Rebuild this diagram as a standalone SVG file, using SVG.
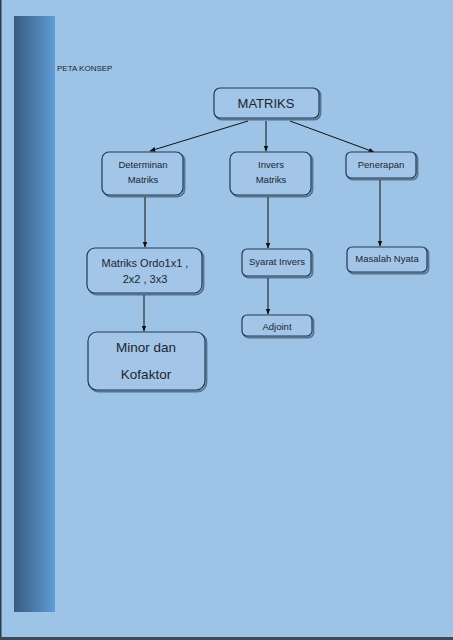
<svg xmlns="http://www.w3.org/2000/svg" width="453" height="640" viewBox="0 0 453 640">
<defs>
<linearGradient id="bar" x1="0" y1="0" x2="1" y2="0">
<stop offset="0" stop-color="#385d82"/>
<stop offset="0.5" stop-color="#4a7bab"/>
<stop offset="1" stop-color="#609cd6"/>
</linearGradient>
<marker id="arr" viewBox="0 0 10 10" refX="9" refY="5" markerWidth="6" markerHeight="6" orient="auto">
<path d="M0,1 L10,5 L0,9 z" fill="#111"/>
</marker>
</defs>
<style>
.box{fill:#a2c5e8;stroke:#1e3a55;stroke-width:1.2}
.sh{fill:none;stroke:#2a3f55;stroke-width:1.8;opacity:0.6}
.t{font-family:"Liberation Sans",Arial,sans-serif;fill:#1c2530;text-anchor:middle}
.c{stroke:#111;stroke-width:1;fill:none;marker-end:url(#arr)}
</style>
<rect x="0" y="0" width="453" height="640" fill="#9dc3e6"/>
<rect x="0" y="0" width="1.5" height="640" fill="#2a3a4a"/>
<rect x="0" y="637" width="453" height="3" fill="#3a4a5a"/>
<rect x="14" y="16" width="41" height="596" fill="url(#bar)"/>
<text x="57" y="71" class="t" style="text-anchor:start;font-size:8px">PETA KONSEP</text>
<g id="connectors">
<line class="c" x1="248" y1="121" x2="150" y2="151"/>
<line class="c" x1="266" y1="121" x2="266" y2="151"/>
<line class="c" x1="290" y1="121" x2="374" y2="152"/>
<line class="c" x1="145" y1="197" x2="145" y2="247"/>
<line class="c" x1="268" y1="197" x2="268" y2="248"/>
<line class="c" x1="380" y1="180" x2="380" y2="246"/>
<line class="c" x1="144" y1="295" x2="144" y2="331"/>
<line class="c" x1="268" y1="278" x2="268" y2="314"/>
</g>
<g id="matriks">
<rect class="sh" x="215.5" y="89.5" width="105" height="30" rx="6"/>
<rect class="box" x="214" y="88" width="105" height="30" rx="6"/>
<text class="t" x="266" y="108" style="font-size:13px">MATRIKS</text>
</g>
<g id="determinan">
<rect class="sh" x="103.5" y="153.5" width="81" height="43" rx="7"/>
<rect class="box" x="102" y="152" width="81" height="43" rx="7"/>
<text class="t" x="143" y="168" style="font-size:9.5px">Determinan</text>
<text class="t" x="143" y="183" style="font-size:9.5px">Matriks</text>
</g>
<g id="invers">
<rect class="sh" x="231.5" y="153.5" width="81" height="43" rx="7"/>
<rect class="box" x="230" y="152" width="81" height="43" rx="7"/>
<text class="t" x="271" y="168" style="font-size:9.5px">Invers</text>
<text class="t" x="271" y="183" style="font-size:9.5px">Matriks</text>
</g>
<g id="penerapan">
<rect class="sh" x="347.5" y="153.5" width="70" height="26" rx="5"/>
<rect class="box" x="346" y="152" width="70" height="26" rx="5"/>
<text class="t" x="381" y="168" style="font-size:9.5px">Penerapan</text>
</g>
<g id="ordo">
<rect class="sh" x="88.5" y="249.5" width="115" height="45" rx="8"/>
<rect class="box" x="87" y="248" width="115" height="45" rx="8"/>
<text class="t" x="145" y="267" style="font-size:11px">Matriks Ordo1x1 ,</text>
<text class="t" x="145" y="283" style="font-size:11px">2x2 , 3x3</text>
</g>
<g id="syarat">
<rect class="sh" x="243.5" y="250.5" width="69" height="27" rx="5"/>
<rect class="box" x="242" y="249" width="69" height="27" rx="5"/>
<text class="t" x="277" y="265" style="font-size:9.5px">Syarat Invers</text>
</g>
<g id="masalah">
<rect class="sh" x="348.5" y="248.5" width="80" height="25" rx="5"/>
<rect class="box" x="347" y="247" width="80" height="25" rx="5"/>
<text class="t" x="387" y="262" style="font-size:9.5px">Masalah Nyata</text>
</g>
<g id="minor">
<rect class="sh" x="89.5" y="333.5" width="117" height="58" rx="9"/>
<rect class="box" x="88" y="332" width="117" height="58" rx="9"/>
<text class="t" x="146" y="352" style="font-size:13.5px">Minor dan</text>
<text class="t" x="146" y="379" style="font-size:13.5px">Kofaktor</text>
</g>
<g id="adjoint">
<rect class="sh" x="243.5" y="316.5" width="70" height="21" rx="5"/>
<rect class="box" x="242" y="315" width="70" height="21" rx="5"/>
<text class="t" x="277" y="330" style="font-size:9.5px">Adjoint</text>
</g>
</svg>
